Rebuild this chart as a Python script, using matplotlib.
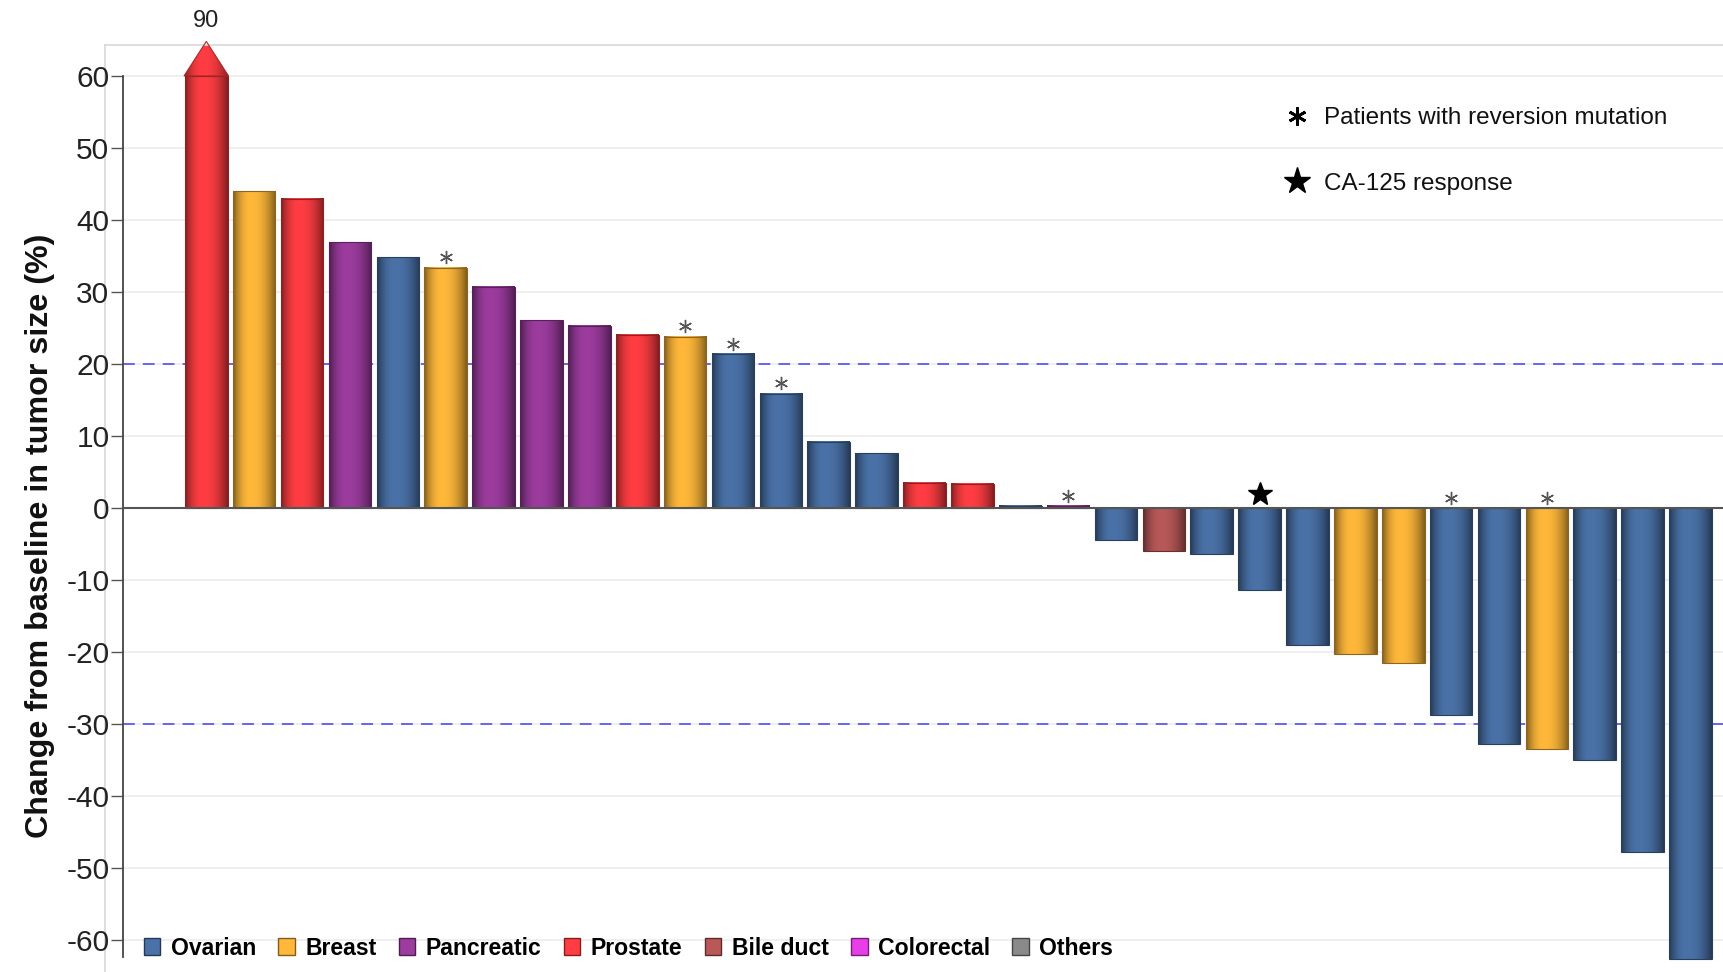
import numpy as np
import matplotlib
matplotlib.use("Agg")
import matplotlib.pyplot as plt
from matplotlib.patches import Patch, Polygon
from matplotlib.lines import Line2D
from matplotlib.colors import to_rgb

# ---- data -------------------------------------------------------------
tumor_types = ["Ovarian", "Breast", "Pancreatic", "Prostate",
               "Bile duct", "Colorectal", "Others"]
type_colors = ["#4a72a8", "#ffb83a", "#9c3c9e", "#ff3d42",
               "#b85858", "#e83ee8", "#8a8a8a"]

patient_type = ["Prostate", "Breast", "Prostate", "Pancreatic", "Ovarian",
                "Breast", "Pancreatic", "Pancreatic", "Pancreatic", "Prostate",
                "Breast", "Ovarian", "Ovarian", "Ovarian", "Ovarian",
                "Prostate", "Prostate", "Ovarian", "Pancreatic", "Ovarian",
                "Bile duct", "Ovarian", "Ovarian", "Ovarian", "Breast",
                "Breast", "Ovarian", "Ovarian", "Breast", "Ovarian",
                "Ovarian", "Ovarian"]
change_pct = [90, 44.0, 42.9, 36.9, 34.8, 33.4, 30.7, 26.1, 25.3, 24.1,
              23.8, 21.4, 15.9, 9.2, 7.6, 3.5, 3.4, 0.3, 0.3, -4.4,
              -5.9, -6.3, -11.3, -19.0, -20.2, -21.5, -28.7, -32.7, -33.5, -34.9,
              -47.8, -62.6]
reversion_mutation = [0, 0, 0, 0, 0, 1, 0, 0, 0, 0,
                      1, 1, 1, 0, 0, 0, 0, 0, 1, 0,
                      0, 0, 0, 0, 0, 0, 1, 0, 1, 0,
                      0, 0]
ca125_response = [0, 0, 0, 0, 0, 0, 0, 0, 0, 0,
                  0, 0, 0, 0, 0, 0, 0, 0, 0, 0,
                  0, 0, 1, 0, 0, 0, 0, 0, 0, 0,
                  0, 0]
y_ticks = [-60, -50, -40, -30, -20, -10, 0, 10, 20, 30, 40, 50, 60]
threshold_lines = [20, -30]
axis_cap = 60

# ---- style ------------------------------------------------------------
FONT = ["Liberation Sans", "DejaVu Sans"]
plt.rcParams["font.family"] = FONT
plt.rcParams["axes.unicode_minus"] = False

W, H = 1724, 972
fig = plt.figure(figsize=(W / 100, H / 100), dpi=100)
ax = fig.add_axes([105 / W, 0, 1 - 105 / W, 1 - 45 / H])

BAR_W = 0.89
SPINE_X = -1.746
X_LEFT, X_RIGHT = -2.116, 31.70
Y_BOTTOM, Y_TOP = -64.4, 64.3
HEAD = 4.8

color_of = dict(zip(tumor_types, type_colors))


def shade(base, n=96):
    """Horizontal cylinder-like shading of a base colour."""
    t = np.linspace(0, 1, n)
    c = 0.42
    d = np.where(t < c, (c - t) / c, (t - c) / (1 - c))
    f = 1 - 0.5 * d ** 2.2
    rgb = np.array(to_rgb(base))
    return np.clip(rgb[None, None, :] * f[None, :, None], 0, 1)


def darker(base, k=0.5):
    return tuple(np.array(to_rgb(base)) * k)


x = np.arange(len(change_pct))
shown = [min(v, axis_cap) for v in change_pct]

for xi, v, kind in zip(x, shown, patient_type):
    base = color_of[kind]
    ax.bar(xi, v, width=BAR_W, facecolor="none",
           edgecolor=darker(base, 0.55), linewidth=0.8, zorder=3)
    lo, hi = min(0, v), max(0, v)
    ax.imshow(shade(base), extent=(xi - BAR_W / 2, xi + BAR_W / 2, lo, hi),
              aspect="auto", interpolation="bilinear", zorder=2.5)

# arrow head on bars that run past the axis cap
for xi, v, kind in zip(x, change_pct, patient_type):
    if v > axis_cap:
        base = color_of[kind]
        tri = Polygon([(xi - BAR_W / 2 - 0.02, axis_cap),
                       (xi + BAR_W / 2 + 0.02, axis_cap),
                       (xi, axis_cap + HEAD)], closed=True,
                      facecolor="none", edgecolor=darker(base, 0.65),
                      linewidth=0.8, zorder=3, clip_on=False)
        ax.add_patch(tri)
        im = ax.imshow(shade(base),
                       extent=(xi - BAR_W / 2 - 0.02, xi + BAR_W / 2 + 0.02,
                               axis_cap, axis_cap + HEAD),
                       aspect="auto", interpolation="bilinear", zorder=2.5)
        im.set_clip_path(tri)
        im.set_clip_box(None)
        ax.annotate(f"{v:g}", xy=(xi, axis_cap + HEAD), xytext=(0, 7),
                    textcoords="offset points", ha="center", va="bottom",
                    fontsize=17, color="#222222", annotation_clip=False)

# reversion-mutation and CA-125 markers
for xi, v, rm, ca in zip(x, shown, reversion_mutation, ca125_response):
    if rm:
        ax.plot(xi, max(v, 0) + 1.45, marker=(6, 2, 0), markersize=9.5,
                markeredgewidth=1.0, color="#555555", linestyle="none",
                zorder=5)
    if ca:
        ax.plot(xi, max(v, 0) + 2.0, marker="*", markersize=18,
                color="black", linestyle="none", zorder=5)

# grid, reference lines, zero line
ax.hlines(y_ticks, SPINE_X, X_RIGHT, colors="#ececec", linewidth=1.2,
          zorder=0.5)
ax.hlines(threshold_lines, SPINE_X, X_RIGHT, colors="#5b5bf0",
          linewidth=1.3, linestyles=(0, (6.5, 4.5)), zorder=1)
ax.hlines(0, SPINE_X, X_RIGHT, colors="#555555", linewidth=1.5, zorder=4)

# axes frame
for s in ("right", "bottom"):
    ax.spines[s].set_visible(False)
ax.spines["top"].set_color("#d8d8d8")
ax.spines["top"].set_linewidth(1.2)
ax.spines["left"].set_position(("data", SPINE_X))
ax.spines["left"].set_bounds(-62.3, 60)
ax.spines["left"].set_color("#444444")
ax.spines["left"].set_linewidth(1.3)
ax.plot([0, 0], [0, 1], transform=ax.transAxes, color="#d8d8d8",
        linewidth=1.2, clip_on=False, zorder=0.4)

ax.set_xlim(X_LEFT, X_RIGHT)
ax.set_ylim(Y_BOTTOM, Y_TOP)
ax.set_xticks([])
ax.set_yticks(y_ticks)
ax.set_yticklabels([str(t) for t in y_ticks])
ax.tick_params(axis="y", direction="out", length=8.6, width=1.0,
               color="#555555", pad=1, labelsize=21.5, labelcolor="#222222")

fig.text(40 / W, 1 - 536 / H, "Change from baseline in tumor size (%)",
         rotation=90, ha="center", va="center", fontsize=23.2,
         fontweight="bold", color="#111111")

# marker legend (upper right)
marker_handles = [
    Line2D([], [], marker=(6, 2, 0), markersize=13, markeredgewidth=2.0,
           color="black", linestyle="none"),
    Line2D([], [], marker="*", markersize=20, color="black",
           linestyle="none"),
]
ax.legend(marker_handles, ["Patients with reversion mutation",
                           "CA-125 response"],
          loc="upper left", bbox_to_anchor=(1273 / W, 1 - 95 / H),
          bbox_transform=fig.transFigure, frameon=False, fontsize=17.5,
          borderpad=0, handlelength=1.0, handletextpad=0.6,
          labelspacing=1.8, labelcolor="#111111")

# tumor type legend (bottom)
type_handles = [Patch(facecolor=c, edgecolor=darker(c, 0.5), linewidth=1.0)
                for c in type_colors]
fig.legend(type_handles, tumor_types, loc="center left",
           bbox_to_anchor=(132 / W, 1 - 948 / H), ncol=len(tumor_types),
           frameon=False, borderpad=0, handlelength=0.72, handleheight=0.72,
           handletextpad=0.45, columnspacing=0.97,
           prop={"family": FONT, "weight": "bold", "size": 16.6})

fig.savefig("out.png", dpi=100)
